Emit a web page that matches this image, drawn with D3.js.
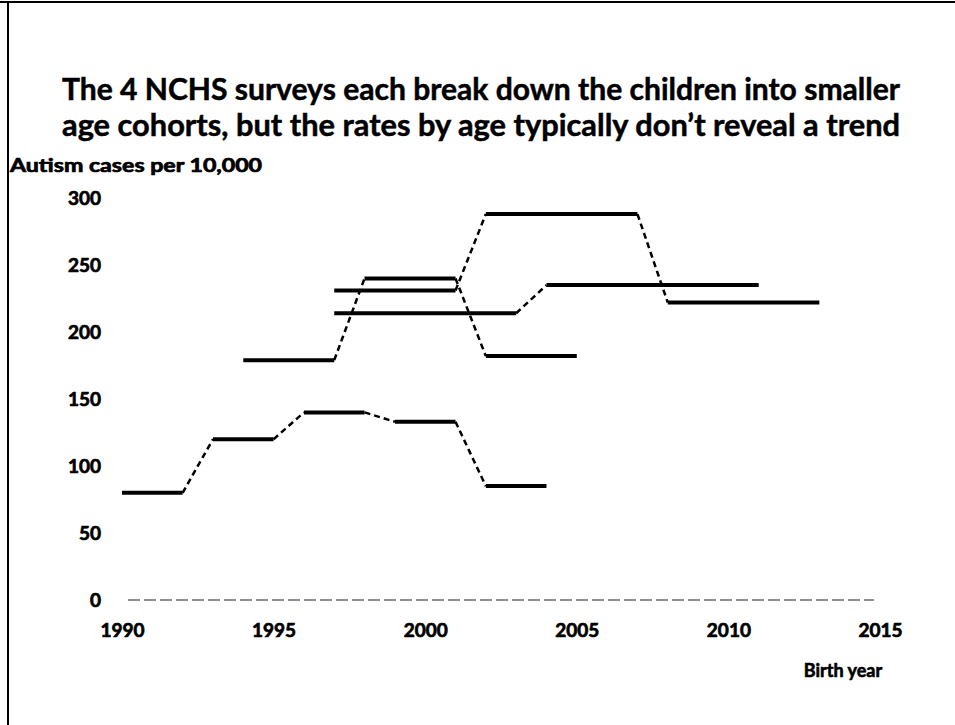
<!DOCTYPE html>
<html>
<head>
<meta charset="utf-8">
<script src="https://cdn.jsdelivr.net/npm/d3@7"></script>
<style>
  body { margin: 0; background: #fff; }
  text { font-family: Lato, "Open Sans", sans-serif; font-weight: bold; fill: #000; }
</style>
</head>
<body>
<div id="chart"></div>
<script>
const titleLines = [
  "The 4 NCHS surveys each break down the children into smaller",
  "age cohorts, but the rates by age typically don\u2019t reveal a trend"
];
const yTicks = [0, 50, 100, 150, 200, 250, 300];
const xTicks = [1990, 1995, 2000, 2005, 2010, 2015];

// each survey: birth-year breakpoints and rate per 10,000
const years1 = [1990, 1992, 1993, 1995, 1996, 1998, 1999, 2001, 2002, 2004];
const rates1 = [80, 80, 120, 120, 140, 140, 133, 133, 85, 85];
const years2 = [1994, 1997, 1998, 2001, 2002, 2005];
const rates2 = [179, 179, 240, 240, 182, 182];
const years3 = [1997, 2001, 2002, 2007, 2008, 2013];
const rates3 = [231, 231, 288, 288, 222, 222];
const years4 = [1997, 2003, 2004, 2011];
const rates4 = [214, 214, 235, 235];

const W = 955, H = 725;

const svg = d3.select("#chart").append("svg")
  .attr("width", W)
  .attr("height", H);

// frame (left and top edges of the slide)
svg.append("line").attr("x1", 8).attr("x2", 8).attr("y1", 1).attr("y2", H)
  .attr("stroke", "#000").attr("stroke-width", 2);
svg.append("line").attr("x1", 0).attr("x2", W).attr("y1", 2).attr("y2", 2)
  .attr("stroke", "#000").attr("stroke-width", 2);

svg.selectAll(".title")
  .data(titleLines)
  .enter()
  .append("text")
    .attr("class", "title")
    .attr("x", 62)
    .attr("y", (d, i) => 100 + i * 36)
    .attr("font-size", "31px")
    .attr("stroke", "#000")
    .attr("stroke-width", 0.5)
    .attr("textLength", 838)
    .attr("lengthAdjust", "spacingAndGlyphs")
    .text(d => d);

svg.append("text")
  .attr("x", 10)
  .attr("y", 172)
  .attr("font-size", "18px")
  .attr("stroke", "#000")
  .attr("stroke-width", 0.7)
  .attr("textLength", 252)
  .attr("lengthAdjust", "spacingAndGlyphs")
  .text("Autism cases per 10,000");

const x = d3.scaleLinear().domain([1990, 2015]).range([122, 880]);
const y = d3.scaleLinear().domain([0, 300]).range([600, 198]);

// y tick labels
const yAxis = d3.axisLeft(y).tickValues(yTicks).tickSize(0).tickPadding(0);
const gy = svg.append("g").attr("transform", "translate(101,0)").call(yAxis);
gy.select(".domain").remove();
gy.selectAll("text")
  .attr("font-size", "19px")
  .attr("font-family", "Lato, sans-serif")
  .attr("font-weight", "bold")
  .attr("fill", "#000")
  .attr("stroke", "#000")
  .attr("stroke-width", 0.7);

// x axis: dashed baseline + labels
const xAxis = d3.axisBottom(x).tickValues(xTicks).tickSize(0).tickPadding(24)
  .tickFormat(d3.format("d"));
const gx = svg.append("g").attr("transform", `translate(0,${y(0)})`).call(xAxis);
gx.select(".domain")
  .attr("d", `M${x(1990) + 6},0H${x(2015) - 6}`)
  .attr("stroke", "#222")
  .attr("stroke-width", 1.2)
  .attr("stroke-dasharray", "12,4");
gx.selectAll("text")
  .attr("font-size", "19px")
  .attr("font-family", "Lato, sans-serif")
  .attr("font-weight", "bold")
  .attr("fill", "#000")
  .attr("stroke", "#000")
  .attr("stroke-width", 0.7);

svg.append("text")
  .attr("x", 843)
  .attr("y", 677)
  .attr("text-anchor", "middle")
  .attr("font-size", "18px")
  .attr("stroke", "#000")
  .attr("stroke-width", 0.6)
  .text("Birth year");

// series: flat cohort segments solid, transitions dashed
const surveys = [
  [years1, rates1],
  [years2, rates2],
  [years3, rates3],
  [years4, rates4]
];

const line = d3.line().x(d => x(d[0])).y(d => y(d[1]));

surveys.forEach(([yrs, rts]) => {
  const pts = yrs.map((yr, i) => [yr, rts[i]]);
  const segs = d3.pairs(pts);
  svg.append("g")
    .selectAll("path")
    .data(segs)
    .enter()
    .append("path")
      .attr("d", d => line(d))
      .attr("fill", "none")
      .attr("stroke", "#000")
      .attr("stroke-width", d => d[0][1] === d[1][1] ? 4 : 2.5)
      .attr("stroke-dasharray", d => d[0][1] === d[1][1] ? null : "6,4");
});
</script>
</body>
</html>
